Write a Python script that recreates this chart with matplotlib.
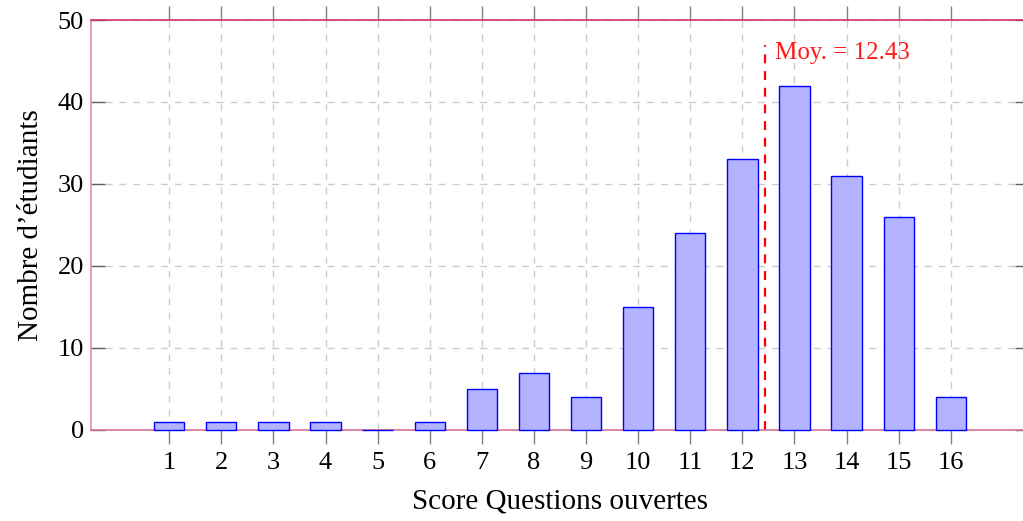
import matplotlib
matplotlib.use("Agg")
import matplotlib.pyplot as plt

scores = list(range(1, 17))
counts = [1, 1, 1, 1, 0, 1, 5, 7, 4, 15, 24, 33, 42, 31, 26, 4]
mean_score = 12.43
mean_label = "Moy. = 12.43"
yticks = [0, 10, 20, 30, 40, 50]

plt.rcParams['font.family'] = ['Liberation Serif', 'DejaVu Serif']

fig = plt.figure(figsize=(10.23, 5.21), dpi=100)
W, H = 1023, 521
ax = fig.add_axes([91 / W, (H - 430) / H, (1029 - 91) / W, 410 / H])

ax.bar(scores, counts, width=0.58, color='#b3b3ff', edgecolor='#0000ff',
       linewidth=1.0, zorder=7, clip_on=False)

ax.plot([mean_score, mean_score], [0, 47], color='#ff0000', linestyle=(0, (4, 3.5)),
        linewidth=1.6, zorder=4)
ax.text(mean_score + 0.2, 46.0, mean_label, color='#ff1a1a', fontsize=18,
        ha='left', va='center', zorder=5)

ax.set_xlim(-0.5, 17.5)
ax.set_ylim(0, 50)
ax.set_xticks(scores)
ax.set_yticks(yticks)
ax.tick_params(axis='x', direction='out', length=10, width=1, color='#808080',
               labelsize=19, top=True, pad=6)
ax.tick_params(axis='y', direction='in', length=10, width=1, color='#606060',
               labelsize=19, right=True, pad=5)

ax.grid(True, color='#cccccc', linestyle=(0, (5, 5)), linewidth=1.0, zorder=0)

ax.spines['left'].set_color('#e68aa8')
ax.spines['top'].set_color('#d8306a')
ax.spines['bottom'].set_color('#d87090')
ax.spines['right'].set_visible(False)
for s in ax.spines.values():
    s.set_linewidth(1.2)
    s.set_zorder(6)

ax.set_xlabel('Score Questions ouvertes', fontsize=21, labelpad=10)
ax.set_ylabel("Nombre d\u2019étudiants", fontsize=21, labelpad=10)

fig.savefig('out.png', dpi=100)
